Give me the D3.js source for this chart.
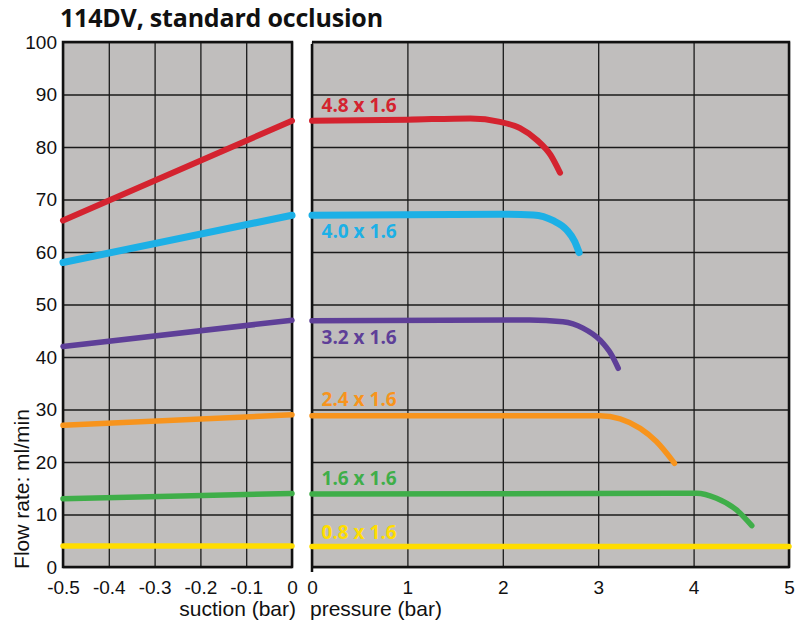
<!DOCTYPE html>
<html>
<head>
<meta charset="utf-8">
<script src="https://cdn.jsdelivr.net/npm/d3@7"></script>
<style>
  body { margin: 0; background: #fff; }
  .tick text { font-family: "Liberation Sans Narrow", "Liberation Sans", Arial, sans-serif; font-size: 19px; fill: #111; }
  .axtitle { font-family: "Liberation Sans", Arial, sans-serif; font-size: 21px; fill: #111; }
  .lbl { font-family: "Open Sans", sans-serif; font-weight: 700; font-size: 19px; }
</style>
</head>
<body>
<div id="root"></div>
<script>
// chart values
const sizes = ["4.8 x 1.6", "4.0 x 1.6", "3.2 x 1.6", "2.4 x 1.6", "1.6 x 1.6", "0.8 x 1.6"];
const suctionTicks = [-0.5, -0.4, -0.3, -0.2, -0.1, 0];
const pressureTicks = [0, 1, 2, 3, 4, 5];
const flowTicks = [0, 10, 20, 30, 40, 50, 60, 70, 80, 90, 100];

// flow at suction -0.5 and 0 bar
const suctionX = [-0.5, 0];
const suctionFlow = [
  [66, 85],
  [58, 67],
  [42, 47],
  [27, 29],
  [13, 14],
  [4, 4]
];

// [pressure, flow] points
const pressure48 = [[0, 85], [1.0, 85.2], [1.66, 85.45], [1.97, 84.8], [2.18, 83.6], [2.36, 81.3], [2.5, 78.5], [2.6, 75.1]];
const pressure40 = [[0, 67], [1.97, 67.2], [2.32, 67.05], [2.53, 65.96], [2.67, 64.2], [2.755, 61.96], [2.8, 59.9]];
const pressure32 = [[0, 46.9], [2.28, 47.05], [2.63, 46.7], [2.84, 45.5], [3.02, 43.2], [3.14, 40.4], [3.21, 37.85]];
const pressure24 = [[0, 28.8], [3.02, 28.8], [3.23, 28.2], [3.44, 26.4], [3.61, 23.9], [3.8, 19.75]];
const pressure16 = [[0, 13.9], [3.75, 14.03], [4.03, 14.03], [4.24, 13.08], [4.45, 10.86], [4.61, 7.87]];
const pressure08 = [[0, 3.9], [5, 3.9]];
const pressureSeries = [pressure48, pressure40, pressure32, pressure24, pressure16, pressure08];

// styles
const colors = ["#d4232f", "#1cb0e6", "#5e3f98", "#f7941d", "#3fae49", "#ffdd00"];
const widths = [6, 7, 5.5, 5.5, 5.5, 5.5];
const labelDy = [-9, 23, 23, -10, -9, -8];

const W = 799, H = 626;
const plotTop = 42, plotBottom = 567;

const svg = d3.select("#root").append("svg")
  .attr("width", W).attr("height", H);

const y = d3.scaleLinear().domain([0, 100]).range([plotBottom, plotTop]);
const xS = d3.scaleLinear().domain([-0.5, 0]).range([63, 292]);
const xP = d3.scaleLinear().domain([0, 5]).range([312, 789]);

svg.append("text")
  .attr("x", 60).attr("y", 27)
  .attr("font-family", "Open Sans, sans-serif")
  .attr("font-weight", 700)
  .attr("font-size", 25)
  .attr("letter-spacing", -0.2)
  .attr("fill", "#111")
  .text("114DV, standard occlusion");

// panel backgrounds
[[63, 292], [312, 789]].forEach(([x0, x1]) => {
  svg.append("rect")
    .attr("x", x0).attr("y", plotTop)
    .attr("width", x1 - x0).attr("height", plotBottom - plotTop)
    .attr("fill", "#c0bebd");
});

// horizontal grid
const gridY = (x0, x1) => svg.append("g")
  .attr("transform", `translate(${x0},0)`)
  .call(d3.axisLeft(y).tickValues(flowTicks).tickSize(-(x1 - x0)).tickFormat(""))
  .call(g => g.select(".domain").remove())
  .call(g => g.selectAll("line").attr("stroke", "#1a1a1a").attr("stroke-width", 1.3));
gridY(63, 292);
gridY(312, 789);

// vertical grid + tick labels
const gridX = (x, ticks, fmt) => svg.append("g")
  .attr("transform", `translate(0,${plotBottom})`)
  .call(d3.axisBottom(x).tickValues(ticks).tickSize(-(plotBottom - plotTop)).tickPadding(14).tickFormat(fmt))
  .call(g => g.select(".domain").remove())
  .call(g => g.selectAll("line").attr("stroke", "#1a1a1a").attr("stroke-width", 1.3));
gridX(xS, suctionTicks, d => d === 0 ? "0" : d.toFixed(1));
gridX(xP, pressureTicks, d => String(d));

// y tick labels
svg.append("g")
  .attr("transform", "translate(63,0)")
  .call(d3.axisLeft(y).tickValues(flowTicks).tickSize(0).tickPadding(6))
  .call(g => g.select(".domain").remove());

// frames
const frame = svg.append("g").attr("stroke", "#111").attr("fill", "none").attr("stroke-width", 2.5);
frame.append("path").attr("d", `M63,${plotTop}H292V${plotBottom}H63Z`);
frame.append("path").attr("d", `M312,${plotTop}H789V${plotBottom}H312`);
frame.append("path").attr("d", `M312,${plotTop + 2}V${plotBottom + 5}`);

// suction lines
const lineS = d3.line().x((d, i) => xS(suctionX[i])).y(d => y(d));
svg.append("g").selectAll("path")
  .data(suctionFlow)
  .join("path")
  .attr("d", lineS)
  .attr("fill", "none")
  .attr("stroke", (d, i) => colors[i])
  .attr("stroke-width", (d, i) => widths[i])
  .attr("stroke-linecap", "round");

// pressure lines
const lineP = d3.line().x(d => xP(d[0])).y(d => y(d[1])).curve(d3.curveMonotoneX);
svg.append("g").selectAll("path")
  .data(pressureSeries)
  .join("path")
  .attr("d", lineP)
  .attr("fill", "none")
  .attr("stroke", (d, i) => colors[i])
  .attr("stroke-width", (d, i) => widths[i])
  .attr("stroke-linecap", "round");

// size labels
svg.append("g").selectAll("text")
  .data(sizes)
  .join("text")
  .attr("class", "lbl")
  .attr("x", xP(0.1))
  .attr("y", (d, i) => y(pressureSeries[i][0][1]) + labelDy[i])
  .attr("fill", (d, i) => colors[i])
  .text(d => d);

// axis titles
svg.append("text").attr("class", "axtitle")
  .attr("x", 296).attr("y", 616).attr("text-anchor", "end")
  .text("suction (bar)");
svg.append("text").attr("class", "axtitle")
  .attr("x", 310).attr("y", 616)
  .text("pressure (bar)");
svg.append("text").attr("class", "axtitle")
  .attr("transform", "translate(29,489) rotate(-90)")
  .attr("text-anchor", "middle")
  .text("Flow rate: ml/min");
</script>
</body>
</html>
